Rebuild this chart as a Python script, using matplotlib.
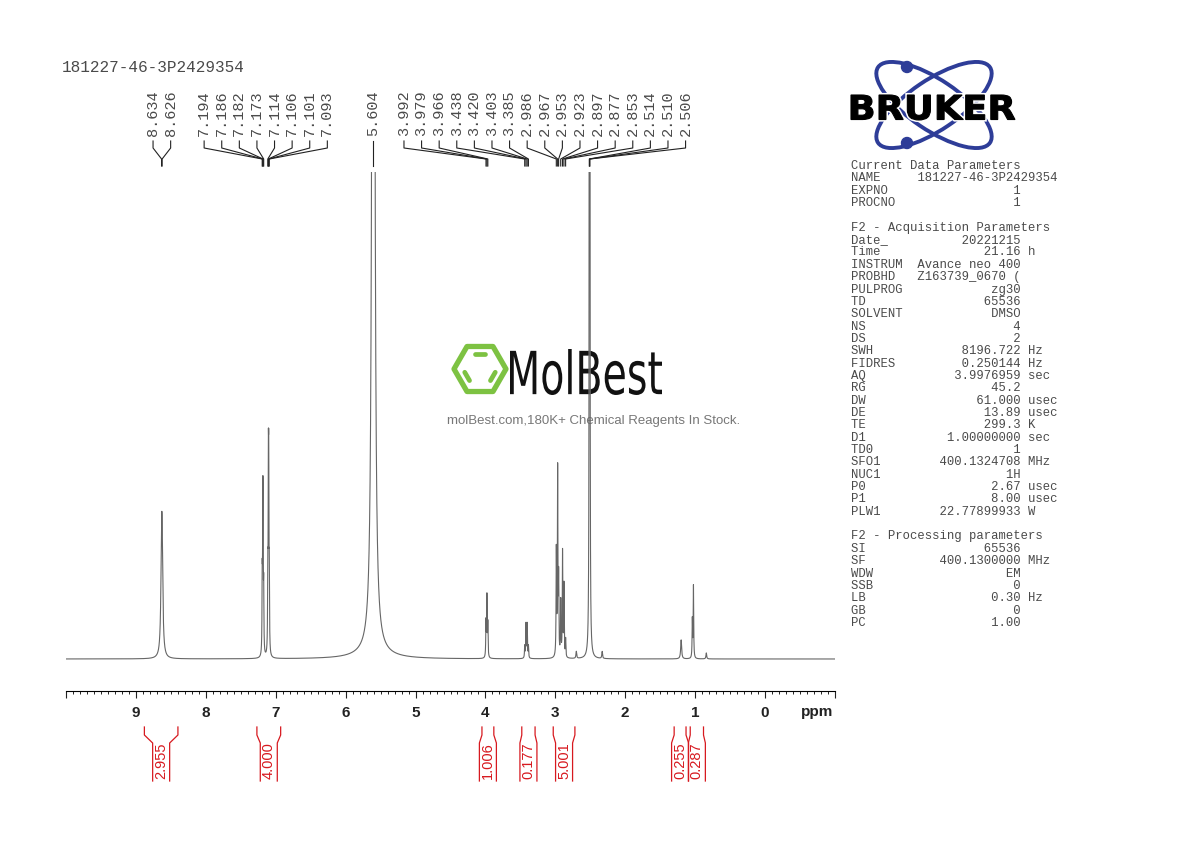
import numpy as np
import matplotlib
matplotlib.use("Agg")
import matplotlib.pyplot as plt
from matplotlib.patches import Ellipse, Circle, PathPatch, Polygon
from matplotlib.textpath import TextPath
from matplotlib.font_manager import FontProperties
from matplotlib.transforms import Affine2D

W, H = 1190, 842

# --- spectrum: line position (ppm), height (a.u.), half width (ppm) ---
peak_ppm = [8.634, 8.626,
            7.194, 7.186, 7.182, 7.173, 7.114, 7.106, 7.101, 7.093,
            5.604, 5.604,
            3.992, 3.979, 3.966,
            3.438, 3.420, 3.403, 3.385,
            2.986, 2.967, 2.953, 2.923, 2.897, 2.877, 2.853,
            2.700, 2.514, 2.510, 2.506, 2.330,
            1.200, 1.040, 1.024, 0.840]
peak_height = [82, 82,
               70, 112, 112, 60, 70, 158, 158, 70,
               3000, 6,
               35, 60, 33,
               12, 34, 34, 12,
               105, 185, 75, 55, 105, 72, 18,
               7, 700, 1400, 700, 7,
               19, 38, 72, 6]
peak_hwhm = [0.012, 0.012,
             0.0035, 0.0035, 0.0035, 0.0035, 0.0035, 0.0035, 0.0035, 0.0035,
             0.0115, 0.25,
             0.004, 0.004, 0.004,
             0.004, 0.004, 0.004, 0.004,
             0.004, 0.004, 0.004, 0.004, 0.004, 0.004, 0.004,
             0.006, 0.0025, 0.0025, 0.0025, 0.006,
             0.008, 0.004, 0.004, 0.006]

# picked peaks shown at the top
shift_labels = [8.634, 8.626, 7.194, 7.186, 7.182, 7.173, 7.114, 7.106, 7.101,
                7.093, 5.604, 3.992, 3.979, 3.966, 3.438, 3.420, 3.403, 3.385,
                2.986, 2.967, 2.953, 2.923, 2.897, 2.877, 2.853, 2.514, 2.510,
                2.506]

# integrals under the axis
integral_start = [8.88, 7.27, 4.05, 3.48, 3.03, 1.30, 1.07]
integral_end = [8.40, 6.93, 3.88, 3.29, 2.72, 1.13, 0.88]
integral_value = ["2.955", "4.000", "1.006", "0.177", "5.001", "0.255", "0.287"]

sample_name = "181227-46-3P2429354"
current_keys = ["NAME", "EXPNO", "PROCNO"]
current_vals = [sample_name, "1", "1"]
current_units = ["", "", ""]
acq_keys = ["Date_", "Time", "INSTRUM", "PROBHD", "PULPROG", "TD", "SOLVENT",
            "NS", "DS", "SWH", "FIDRES", "AQ", "RG", "DW", "DE", "TE", "D1",
            "TD0", "SFO1", "NUC1", "P0", "P1", "PLW1"]
acq_vals = ["20221215", "21.16", "Avance neo 400", "Z163739_0670 (", "zg30",
            "65536", "DMSO", "4", "2", "8196.722", "0.250144", "3.9976959",
            "45.2", "61.000", "13.89", "299.3", "1.00000000", "1",
            "400.1324708", "1H", "2.67", "8.00", "22.77899933"]
acq_units = ["", "h", "", "", "", "", "", "", "", "Hz", "Hz", "sec", "",
             "usec", "usec", "K", "sec", "", "MHz", "", "usec", "usec", "W"]
proc_keys = ["SI", "SF", "WDW", "SSB", "LB", "GB", "PC"]
proc_vals = ["65536", "400.1300000", "EM", "0", "0.30", "0", "1.00"]
proc_units = ["", "MHz", "", "", "Hz", "", ""]

plt.rcParams['font.family'] = ['Liberation Sans', 'DejaVu Sans']
MONO = 'Liberation Mono'
TXT = '#4a4a4a'
RED = '#d7191f'


def frac_rect(x0, y0, x1, y1):
    return [x0 / W, (H - y1) / H, (x1 - x0) / W, (y1 - y0) / H]


def spread(ppms, gap):
    """Push neighbouring labels apart, keeping each group centred on its peaks."""
    groups = [[p] for p in ppms]
    changed = True
    while changed:
        changed = False
        for i in range(len(groups) - 1):
            a, b = groups[i], groups[i + 1]
            last_a = np.mean(a) - (len(a) - 1) * gap / 2
            first_b = np.mean(b) + (len(b) - 1) * gap / 2
            if last_a - first_b < gap:
                groups[i] = a + b
                del groups[i + 1]
                changed = True
                break
    out = []
    for g in groups:
        m = np.mean(g)
        out += [m + ((len(g) - 1) / 2 - k) * gap for k in range(len(g))]
    return out


def boxed_text(axes, s, family, weight, box, **kw):
    """Draw s as a path stretched to fill box = (x0, y0, x1, y1) in pixels."""
    tp = TextPath((0, 0), s, size=100, prop=FontProperties(family=family, weight=weight))
    bb = tp.get_extents()
    x0, y0, x1, y1 = box
    tr = (Affine2D().translate(-bb.x0, -bb.y0)
          .scale((x1 - x0) / bb.width, -(y1 - y0) / bb.height)
          .translate(x0, y1) + axes.transData)
    axes.add_patch(PathPatch(tp, transform=tr, **kw))


fig = plt.figure(figsize=(W / 100, H / 100), dpi=100)

# background layer in pixel coordinates
bg = fig.add_axes([0, 0, 1, 1])
bg.set_xlim(0, W)
bg.set_ylim(H, 0)
bg.axis('off')

bg.text(62, 68, sample_name, family=MONO, size=11.6, va='center', color=TXT)

# MolBest watermark
cx, cy, r = 480, 369, 26
ang = np.radians(np.arange(0, 360, 60))
hx, hy = cx + r * np.cos(ang), cy - r * np.sin(ang)
bg.add_patch(Polygon(np.column_stack([hx, hy]), closed=True, fill=False,
                     edgecolor='#7dc242', lw=3.8, joinstyle='round'))
for i in (1, 3, 5):
    j = (i + 1) % 6
    p0 = np.array([hx[i], hy[i]])
    p1 = np.array([hx[j], hy[j]])
    a = p0 + 0.22 * (p1 - p0)
    b = p0 + 0.78 * (p1 - p0)
    a = np.array([cx, cy]) + 0.66 * (a - [cx, cy])
    b = np.array([cx, cy]) + 0.66 * (b - [cx, cy])
    bg.plot([a[0], b[0]], [a[1], b[1]], color='#7dc242', lw=3.4,
            solid_capstyle='round')
boxed_text(bg, "MolBest", "DejaVu Sans", "normal", (510, 349, 662, 395),
           facecolor='#111111', lw=0)
bg.text(594, 421, "molBest.com,180K+ Chemical Reagents In Stock.", ha='center',
        va='center', size=9.5, color='#777777')

# Bruker logo
blue = '#2e3d98'
for a in (34, -34):
    bg.add_patch(Ellipse((934, 105), 135, 50, angle=a, fill=False, edgecolor=blue, lw=2.8))
bg.add_patch(Circle((907, 67), 5.5, color=blue))
bg.add_patch(Circle((907, 143), 5.5, color=blue))
boxed_text(bg, "BRUKER", "DejaVu Sans", "bold", (851, 95, 1015, 120),
           facecolor='white', edgecolor='white', lw=3)
boxed_text(bg, "BRUKER", "DejaVu Sans", "bold", (851, 95, 1015, 120),
           facecolor='black', edgecolor='black', lw=0.8)

# parameter listing
lines = ["Current Data Parameters"]
lines += [f"{k:<9}{v:>14} {u}" for k, v, u in zip(current_keys, current_vals, current_units)]
lines += ["", "F2 - Acquisition Parameters"]
lines += [f"{k:<9}{v:>14} {u}" for k, v, u in zip(acq_keys, acq_vals, acq_units)]
lines += ["", "F2 - Processing parameters"]
lines += [f"{k:<9}{v:>14} {u}" for k, v, u in zip(proc_keys, proc_vals, proc_units)]
for i, s in enumerate(lines):
    bg.text(851, 166 + 12.35 * i, s, family=MONO, size=8.8, va='center', color=TXT)

# spectrum
ax = fig.add_axes(frac_rect(66.1, 172, 834.9, 691))
ax.patch.set_visible(False)
x = np.linspace(10, -1, 44001)
y = np.zeros_like(x)
for p, h, w in zip(peak_ppm, peak_height, peak_hwhm):
    y += h / (1 + ((x - p) / w) ** 2)
ax.plot(x, y, color='#666666', lw=0.8)
ax.set_xlim(10, -1)
ax.set_ylim(-32, 487)
major = np.arange(10, -2, -1)
ax.set_xticks(major, ['' if m in (10, -1) else str(m) for m in major],
              fontweight='bold', fontsize=11)
ax.set_xticks(np.round(np.arange(-1, 10.001, 0.1), 1), minor=True)
ax.tick_params(axis='x', which='major', direction='out', length=5, width=0.8,
               pad=5.5, colors='#222222')
ax.tick_params(axis='x', which='minor', direction='out', length=2, width=0.6)
ax.set_yticks([])
for s in ('top', 'left', 'right'):
    ax.spines[s].set_visible(False)
ax.spines['bottom'].set_linewidth(0.8)
bg.text(833, 712, "ppm", ha='right', va='center', weight='bold', size=11, color='#222222')

# peak labels
axl = fig.add_axes(frac_rect(66.1, 60, 834.9, 172), sharex=ax)
axl.set_ylim(172, 60)
axl.axis('off')
gap = 17.6 * 11 / (834.9 - 66.1)
for p, lab in zip(shift_labels, spread(shift_labels, gap)):
    axl.plot([lab, lab, p, p], [141, 148, 159, 166], color='#222222', lw=0.8)
    axl.text(lab, 136, f"{p:.3f}", rotation=90, ha='center', va='bottom',
             family=MONO, size=11, color=TXT)

# integrals
axi = fig.add_axes(frac_rect(66.1, 720, 834.9, 790), sharex=ax)
axi.set_ylim(790, 720)
axi.axis('off')
half = 8.5 * 11 / (834.9 - 66.1)
for x1, x2, v in zip(integral_start, integral_end, integral_value):
    c = (x1 + x2) / 2
    axi.plot([x1, x1, c + half, c + half], [727, 735, 743, 781], color=RED, lw=0.9)
    axi.plot([x2, x2, c - half, c - half], [727, 735, 743, 781], color=RED, lw=0.9)
    axi.text(c, 779, v, rotation=90, ha='center', va='bottom', size=10.5,
             color=RED)

fig.savefig("out.png", dpi=100)
